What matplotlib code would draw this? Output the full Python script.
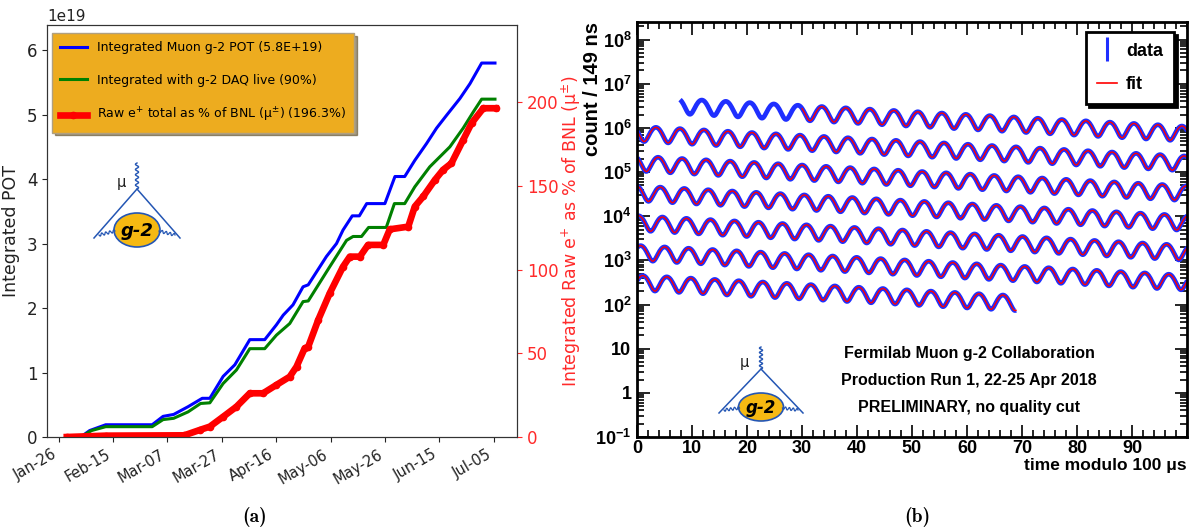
import numpy as np
import pandas as pd
import matplotlib
matplotlib.use("Agg")
import matplotlib.pyplot as plt
from matplotlib import font_manager as fm
from matplotlib.lines import Line2D
from matplotlib.patches import Ellipse
from matplotlib.ticker import MultipleLocator, LogLocator, NullFormatter

plt.rcParams['mathtext.default'] = 'regular'

# fonts: the reference is squeezed sideways, so use narrow faces when present
ttf = fm.fontManager.ttflist
has_narrow = any(f.name == 'Liberation Sans Narrow' for f in ttf)
ROOT_FONT = 'Liberation Sans Narrow' if has_narrow else 'Liberation Sans'

# ---------------- (a) integrated POT, days after 2018-01-26 ----------------
pot_days = [3, 8.1, 11.4, 17.3, 34.4, 38.4, 42.3, 47.6, 52.8, 55.6, 60.5, 64.8,
            70.3, 75.8, 80.1, 82.6, 86.2, 89.9, 91.8, 98.5, 102.2, 104.6, 108.0,
            110.6, 113.3, 120.0, 123.7, 127.3, 131.0, 135.3, 139.0, 142.7, 147.6,
            151.3, 155.6, 160.5]
pot_vals = [0, 0, 0.10, 0.19, 0.19, 0.32, 0.35, 0.47, 0.60, 0.60, 0.94, 1.12,
            1.51, 1.51, 1.74, 1.89, 2.05, 2.33, 2.36, 2.80, 3.00, 3.21, 3.43,
            3.43, 3.62, 3.62, 4.04, 4.04, 4.29, 4.55, 4.79, 4.99, 5.25,
            5.48, 5.80, 5.80]  # x 1e19

live_days = [3, 8.1, 12.1, 17.3, 34.4, 38.4, 42.3, 47.6, 52.2, 55.6, 60.5, 65.4,
             70.3, 75.8, 80.1, 85.0, 89.9, 91.8, 99.7, 105.9, 108.3, 111.4, 114.0,
             120.5, 123.5, 127.3, 131.0, 136.5, 139.6, 143.9, 148.8, 152.5, 155.6,
             160.5]
live_vals = [0, 0, 0.10, 0.16, 0.16, 0.27, 0.29, 0.39, 0.52, 0.53, 0.83, 1.04,
             1.37, 1.37, 1.58, 1.76, 2.10, 2.11, 2.64, 3.05, 3.11, 3.11, 3.25,
             3.25, 3.62, 3.62, 3.88, 4.19, 4.32, 4.50, 4.79, 5.04, 5.24,
             5.24]

raw_days = [3, 17.3, 46.2, 51.9, 55.6, 60.5, 65.4, 70.3, 75.2, 80.1, 85.0, 87.5,
            90.5, 91.8, 95.5, 99.7, 104.6, 107.1, 110.8, 113.8, 119.4, 121.8,
            128.6, 131.0, 134.1, 138.4, 141.4, 144.5, 148.8, 151.9, 156.2, 160.8]
raw_pct = [0, 0.8, 1.0, 4.2, 6.2, 12.1, 18.1, 26.1, 26.1, 31.1, 36.0, 42.0,
           53.0, 53.9, 70.0, 85.8, 101.7, 107.7, 107.7, 114.7, 114.7, 124.0,
           125.6, 137.6, 143.6, 153.5, 159.5, 163.5, 177.4, 187.4, 196.3, 196.3]

xtick_labels = ['Jan-26', 'Feb-15', 'Mar-07', 'Mar-27', 'Apr-16', 'May-06',
                'May-26', 'Jun-15', 'Jul-05']
legend_a = ['Integrated Muon g-2 POT (5.8E+19)',
            'Integrated with g-2 DAQ live (90%)',
            'Raw e$^{+}$ total as % of BNL (μ$^{±}$) (196.3%)']

# ---------------- (b) wiggle plot, fit values ----------------
n0 = 3.74e6          # counts per bin at t = 0
tau = 64.4           # us, dilated lifetime
asym = 0.37
period = 4.365       # us
t_peak = 11.8        # us, a maximum of the wiggle
data_start, data_end, fit_start = 7.7, 669.0, 30.0
bin_w = 0.149
n_rows = 7
ytick_labels = ['$10^{-1}$', '1', '10', '$10^{2}$', '$10^{3}$', '$10^{4}$',
                '$10^{5}$', '$10^{6}$', '$10^{7}$', '$10^{8}$']
info_lines = ['Fermilab Muon g-2 Collaboration',
              'Production Run 1, 22-25 Apr 2018',
              'PRELIMINARY, no quality cut']

W, H = 1191, 531
fig = plt.figure(figsize=(W / 100, H / 100), dpi=100)


def fpos(l, t, r, b):
    return [l / W, 1 - b / H, (r - l) / W, (b - t) / H]


# ----- panel (a)
ax1 = fig.add_axes(fpos(47, 25, 517, 437))
ax1r = ax1.twinx()
base = pd.Timestamp('2018-01-26')


def days(d):
    return (base + pd.to_timedelta(np.asarray(d, dtype=float), unit='D')).to_numpy()


l1, = ax1.plot(days(pot_days), np.array(pot_vals) * 1e19, color='#0000ff', lw=2.2)
l2, = ax1.plot(days(live_days), np.array(live_vals) * 1e19, color='#008000', lw=2.2)
l3, = ax1r.plot(days(raw_days), raw_pct, color='#ff0000', lw=4.8, marker='o', ms=4.5)

ax1.set_xlim(days([-4.3])[0], days([168.6])[0])
ax1.set_xticks(days(np.arange(len(xtick_labels)) * 20))
ax1.set_xticklabels(xtick_labels, rotation=30, ha='right', fontsize=10.5)
ax1.set_ylim(0, 6.39e19)
ax1.set_yticks(np.arange(7) * 1e19)
ax1.tick_params(axis='y', labelsize=12)
ax1.tick_params(colors='#222222')
ax1.yaxis.get_offset_text().set_fontsize(11)
ax1.set_ylabel('Integrated POT', fontsize=12.5, color='#222222', labelpad=5)

ax1r.set_ylim(0, 246)
ax1r.set_yticks([0, 50, 100, 150, 200])
ax1r.tick_params(axis='y', colors='#ff2a2a', labelsize=12)
ax1r.set_ylabel('Integrated Raw e$^{+}$ as % of BNL (μ$^{±}$)', fontsize=12.5,
                color='#ff2a2a', labelpad=1)
for a in (ax1, ax1r):
    for s in a.spines.values():
        s.set_color('#333333')

leg = ax1r.legend([l1, l2, l3], legend_a, loc='upper left', bbox_to_anchor=(0.011, 0.98),
                  borderaxespad=0, facecolor='#edac1f', edgecolor='#b0a080', framealpha=1,
                  shadow=True, fancybox=False, handlelength=2.1, handletextpad=0.8,
                  labelspacing=1.55, borderpad=0.65, prop=dict(size=9))

# ----- panel (b)
ax2 = fig.add_axes(fpos(637, 22, 1187, 437))
ax2.set_yscale('log')
x = np.arange(0, 100, bin_w) + bin_w / 2
for k in range(n_rows):
    t = 100 * k + x
    model = n0 * np.exp(-t / tau) * (1 + asym * np.cos(2 * np.pi * (t - t_peak) / period))
    d = (t >= data_start) & (t <= data_end)
    f = (t >= fit_start) & (t <= data_end)
    ax2.plot(x[d], model[d], color='#1f2fff', lw=3.4, solid_capstyle='butt')
    ax2.plot(x[f], model[f], color='#ff0000', lw=1.0)

ax2.set_xlim(0, 100)
ax2.set_ylim(0.1, 2.5e8)
ax2.set_xticks(np.arange(0, 100, 10))
ax2.xaxis.set_minor_locator(MultipleLocator(2))
ax2.set_yticks(10.0 ** np.arange(-1, 9))
ax2.set_yticklabels(ytick_labels)
ax2.yaxis.set_minor_locator(LogLocator(base=10, subs=np.arange(2, 10), numticks=20))
ax2.yaxis.set_minor_formatter(NullFormatter())
ax2.tick_params(which='both', direction='in', top=True, right=True, width=1.2, colors='black')
ax2.tick_params(which='major', length=9, labelsize=13)
ax2.tick_params(axis='x', which='major', pad=2)
ax2.tick_params(axis='y', which='major', pad=4)
ax2.tick_params(which='minor', length=5)
for lab in ax2.get_xticklabels() + ax2.get_yticklabels():
    lab.set_fontfamily(ROOT_FONT)
    lab.set_fontweight('bold')
for s in ax2.spines.values():
    s.set_linewidth(2)
ax2.set_ylabel('count / 149 ns', loc='top', fontsize=14.5, fontweight='bold',
               family='Liberation Sans', labelpad=-5)
ax2.set_xlabel('time modulo 100 μs', loc='right', fontsize=12.5, fontweight='bold',
               family=ROOT_FONT, labelpad=1)

for txt, yy in zip(info_lines, [0.2024, 0.137, 0.070]):
    ax2.text(0.6036, yy, txt, transform=ax2.transAxes, ha='center', va='center',
             fontsize=11.5, fontweight='bold', family=ROOT_FONT)

h_data = Line2D([], [], color='#1f2fff', marker='|', ls='none', ms=17, mew=2.2)
h_fit = Line2D([], [], color='#ff0000', lw=1.2)
leg2 = ax2.legend([h_data, h_fit], ['data', 'fit'], loc='upper right',
                  bbox_to_anchor=(0.976, 0.976), borderaxespad=0, fancybox=False,
                  edgecolor='black', framealpha=1, shadow={'color': 'black', 'alpha': 1},
                  handlelength=1.1, handletextpad=0.5, labelspacing=0.9, borderpad=0.6,
                  prop=dict(family=ROOT_FONT, weight='bold', size=13))
leg2.get_frame().set_linewidth(2)

# ----- overlay for the g-2 logos and panel tags (pixel coordinates)
ov = fig.add_axes([0, 0, 1, 1], zorder=10)
ov.set_xlim(0, W)
ov.set_ylim(H, 0)
ov.axis('off')
LOGO_BLUE = '#2456b4'


def wavy(p0, p1, cycles, amp, lw=1.0):
    p0, p1 = np.array(p0, float), np.array(p1, float)
    s = np.linspace(0, 1, 12 * cycles + 1)
    v = p1 - p0
    nrm = np.array([-v[1], v[0]]) / np.hypot(*v)
    pts = p0 + np.outer(s, v) + np.outer(amp * np.sin(2 * np.pi * cycles * s), nrm)
    ov.plot(pts[:, 0], pts[:, 1], color=LOGO_BLUE, lw=lw)


def logo(cx, top, vtx, foot, half, ecy, ew, eh, mu_xy, gsize):
    wavy((cx, top), (cx, vtx), 5, 1.6)
    ov.plot([cx - half, cx, cx + half], [foot, vtx, foot], color=LOGO_BLUE, lw=1.1)
    wavy((cx - half + 5, foot - 3), (cx - ew / 2 + 1, ecy + 1), 4, 1.4, lw=0.9)
    wavy((cx + half - 5, foot - 3), (cx + ew / 2 - 1, ecy + 1), 4, 1.4, lw=0.9)
    ov.add_patch(Ellipse((cx, ecy), ew, eh, facecolor='#f6b912', edgecolor=LOGO_BLUE, lw=1.2))
    ov.text(cx, ecy + 1, 'g-2', ha='center', va='center', fontsize=gsize,
            fontweight='bold', style='italic', family='DejaVu Sans', color='black')
    ov.text(mu_xy[0], mu_xy[1], 'μ', ha='center', va='center', fontsize=10.5, color='#222222')


logo(137, 163, 189, 238, 43, 230, 46, 34, (121, 182), 13)
logo(761, 347, 369, 413, 42, 407, 45, 28, (744, 362), 12)

ov.text(255, 517, '(a)', ha='center', va='center', fontsize=14, family='cmb10')
ov.text(917, 517, '(b)', ha='center', va='center', fontsize=14, family='cmb10')

fig.savefig('out.png', dpi=100)
